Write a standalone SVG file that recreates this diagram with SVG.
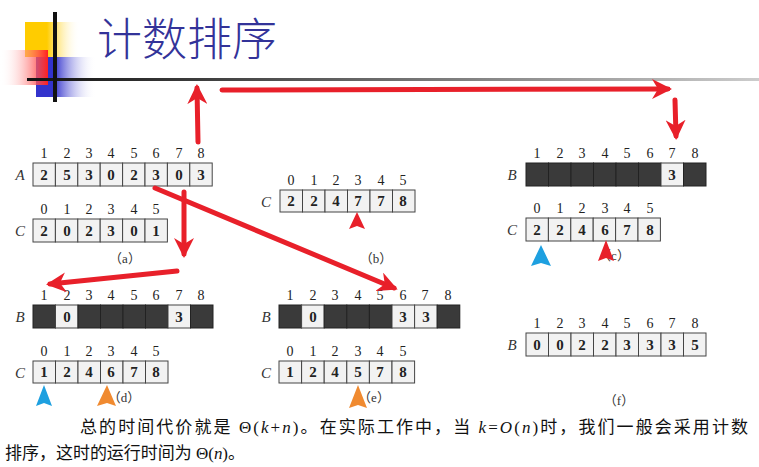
<svg xmlns="http://www.w3.org/2000/svg" width="759" height="467" viewBox="0 0 759 467">
<defs>
<linearGradient id="gy" x1="0" x2="1"><stop offset="0.4" stop-color="#ffcc00"/><stop offset="1" stop-color="#fff" stop-opacity="0"/></linearGradient>
<linearGradient id="gb" x1="0" x2="1"><stop offset="0.3" stop-color="#3333cc"/><stop offset="1" stop-color="#fff" stop-opacity="0"/></linearGradient>
<linearGradient id="gr" x1="1" x2="0"><stop offset="0" stop-color="#ff2020"/><stop offset="1" stop-color="#fff" stop-opacity="0"/></linearGradient>
<linearGradient id="gl" x1="0" x2="1"><stop offset="0" stop-color="#111"/><stop offset="1" stop-color="#ccc"/></linearGradient>
<marker id="ah" viewBox="0 0 10 10" refX="8" refY="5" markerWidth="4" markerHeight="4" orient="auto"><path d="M0,0L10,5L0,10L3,5z" fill="#e8202a"/></marker>
</defs>
<style>
.c{fill:#f2f2f2;stroke:#444;stroke-width:1}
.d{fill:#3a3a3a;stroke:#222;stroke-width:1}
.t{font-family:"Liberation Serif","DejaVu Serif",serif;font-size:15px;font-weight:bold;fill:#222;text-anchor:middle}
.i{font-family:"Liberation Serif","DejaVu Serif",serif;font-size:14px;fill:#222;text-anchor:middle}
.l{font-family:"Liberation Serif","DejaVu Serif",serif;font-size:15px;font-style:italic;fill:#333;text-anchor:middle}
.cap{font-family:"Liberation Serif","Noto Sans CJK SC",serif;font-size:13px;fill:#333;text-anchor:middle}
.ar{stroke:#e8202a;stroke-width:5;fill:none;stroke-linecap:round;marker-end:url(#ah)}
.body{font-family:"Liberation Serif","Noto Sans CJK SC",serif;font-size:17px;fill:#111}
</style>
<rect width="759" height="467" fill="#fff"/>
<g id="deco">
<rect x="25" y="22" width="55" height="35" fill="url(#gy)"/>
<rect x="36" y="57" width="60" height="40" fill="url(#gb)"/>
<rect x="0" y="50" width="48" height="35" fill="url(#gr)"/>
<rect x="27" y="78" width="732" height="3" fill="url(#gl)"/>
<rect x="53" y="12" width="4" height="90" fill="#111"/>
</g>
<text x="97" y="56" font-family="'Noto Sans CJK SC',sans-serif" font-weight="300" font-size="45" fill="#333399">计数排序</text>

<g id="a">
<text class="l" x="20" y="180">A</text>
<g class="i"><text x="44" y="158">1</text><text x="67" y="158">2</text><text x="89" y="158">3</text><text x="111" y="158">4</text><text x="134" y="158">5</text><text x="156" y="158">6</text><text x="179" y="158">7</text><text x="201" y="158">8</text></g>
<g><rect class="c" x="33" y="163" width="22.4" height="23"/><rect class="c" x="55.4" y="163" width="22.4" height="23"/><rect class="c" x="77.8" y="163" width="22.4" height="23"/><rect class="c" x="100.2" y="163" width="22.4" height="23"/><rect class="c" x="122.6" y="163" width="22.4" height="23"/><rect class="c" x="145" y="163" width="22.4" height="23"/><rect class="c" x="167.4" y="163" width="22.4" height="23"/><rect class="c" x="189.8" y="163" width="22.4" height="23"/></g>
<g class="t"><text x="44" y="180">2</text><text x="67" y="180">5</text><text x="89" y="180">3</text><text x="111" y="180">0</text><text x="134" y="180">2</text><text x="156" y="180">3</text><text x="179" y="180">0</text><text x="201" y="180">3</text></g>
<text class="l" x="20" y="236">C</text>
<g class="i"><text x="44" y="214">0</text><text x="67" y="214">1</text><text x="89" y="214">2</text><text x="111" y="214">3</text><text x="134" y="214">4</text><text x="156" y="214">5</text></g>
<g><rect class="c" x="33" y="219" width="22.4" height="23"/><rect class="c" x="55.4" y="219" width="22.4" height="23"/><rect class="c" x="77.8" y="219" width="22.4" height="23"/><rect class="c" x="100.2" y="219" width="22.4" height="23"/><rect class="c" x="122.6" y="219" width="22.4" height="23"/><rect class="c" x="145" y="219" width="22.4" height="23"/></g>
<g class="t"><text x="44" y="236">2</text><text x="67" y="236">0</text><text x="89" y="236">2</text><text x="111" y="236">3</text><text x="134" y="236">0</text><text x="156" y="236">1</text></g>
<text class="cap" x="125" y="263">（a）</text>
</g>

<g id="b">
<text class="l" x="266" y="207">C</text>
<g class="i"><text x="291" y="185">0</text><text x="314" y="185">1</text><text x="336" y="185">2</text><text x="358" y="185">3</text><text x="381" y="185">4</text><text x="403" y="185">5</text></g>
<g><rect class="c" x="280" y="190" width="22.5" height="22"/><rect class="c" x="302.5" y="190" width="22.5" height="22"/><rect class="c" x="325" y="190" width="22.5" height="22"/><rect class="c" x="347.5" y="190" width="22.5" height="22"/><rect class="c" x="370" y="190" width="22.5" height="22"/><rect class="c" x="392.5" y="190" width="22.5" height="22"/></g>
<g class="t"><text x="291" y="206">2</text><text x="314" y="206">2</text><text x="336" y="206">4</text><text x="358" y="206">7</text><text x="381" y="206">7</text><text x="403" y="206">8</text></g>
<text class="cap" x="376" y="263">（b）</text>
</g>

<g id="c">
<text class="l" x="512" y="180">B</text>
<g class="i"><text x="537" y="158">1</text><text x="560" y="158">2</text><text x="582" y="158">3</text><text x="605" y="158">4</text><text x="627" y="158">5</text><text x="650" y="158">6</text><text x="672" y="158">7</text><text x="695" y="158">8</text></g>
<g><rect class="d" x="526" y="163" width="22.5" height="23"/><rect class="d" x="548.5" y="163" width="22.5" height="23"/><rect class="d" x="571" y="163" width="22.5" height="23"/><rect class="d" x="593.5" y="163" width="22.5" height="23"/><rect class="d" x="616" y="163" width="22.5" height="23"/><rect class="d" x="638.5" y="163" width="22.5" height="23"/><rect class="c" x="661" y="163" width="22.5" height="23"/><rect class="d" x="683.5" y="163" width="22.5" height="23"/></g>
<text class="t" x="672" y="180">3</text>
<text class="l" x="512" y="235">C</text>
<g class="i"><text x="537" y="213">0</text><text x="560" y="213">1</text><text x="582" y="213">2</text><text x="605" y="213">3</text><text x="627" y="213">4</text><text x="650" y="213">5</text></g>
<g><rect class="c" x="526" y="218" width="22.4" height="23"/><rect class="c" x="548.4" y="218" width="22.4" height="23"/><rect class="c" x="570.8" y="218" width="22.4" height="23"/><rect class="c" x="593.2" y="218" width="22.4" height="23"/><rect class="c" x="615.6" y="218" width="22.4" height="23"/><rect class="c" x="638" y="218" width="22.4" height="23"/></g>
<g class="t"><text x="537" y="235">2</text><text x="560" y="235">2</text><text x="582" y="235">4</text><text x="605" y="235">6</text><text x="627" y="235">7</text><text x="650" y="235">8</text></g>
<text class="cap" x="614" y="260">（c）</text>
</g>

<g id="d">
<text class="l" x="20" y="322">B</text>
<g class="i"><text x="44" y="300">1</text><text x="67" y="300">2</text><text x="89" y="300">3</text><text x="111" y="300">4</text><text x="134" y="300">5</text><text x="156" y="300">6</text><text x="179" y="300">7</text><text x="201" y="300">8</text></g>
<g><rect class="d" x="33" y="305" width="22.5" height="23"/><rect class="c" x="55.5" y="305" width="22.5" height="23"/><rect class="d" x="78" y="305" width="22.5" height="23"/><rect class="d" x="100.5" y="305" width="22.5" height="23"/><rect class="d" x="123" y="305" width="22.5" height="23"/><rect class="d" x="145.5" y="305" width="22.5" height="23"/><rect class="c" x="168" y="305" width="22.5" height="23"/><rect class="d" x="190.5" y="305" width="22.5" height="23"/></g>
<text class="t" x="67" y="322">0</text><text class="t" x="179" y="322">3</text>
<text class="l" x="20" y="378">C</text>
<g class="i"><text x="44" y="356">0</text><text x="67" y="356">1</text><text x="89" y="356">2</text><text x="111" y="356">3</text><text x="134" y="356">4</text><text x="156" y="356">5</text></g>
<g><rect class="c" x="33" y="361" width="22.5" height="22"/><rect class="c" x="55.5" y="361" width="22.5" height="22"/><rect class="c" x="78" y="361" width="22.5" height="22"/><rect class="c" x="100.5" y="361" width="22.5" height="22"/><rect class="c" x="123" y="361" width="22.5" height="22"/><rect class="c" x="145.5" y="361" width="22.5" height="22"/></g>
<g class="t"><text x="44" y="377">1</text><text x="67" y="377">2</text><text x="89" y="377">4</text><text x="111" y="377">6</text><text x="134" y="377">7</text><text x="156" y="377">8</text></g>
<text class="cap" x="124" y="402">（d）</text>
</g>

<g id="e">
<text class="l" x="266" y="322">B</text>
<g class="i"><text x="290" y="300">1</text><text x="313" y="300">2</text><text x="335" y="300">3</text><text x="358" y="300">4</text><text x="380" y="300">5</text><text x="403" y="300">6</text><text x="425" y="300">7</text><text x="448" y="300">8</text></g>
<g><rect class="d" x="279" y="305" width="22.6" height="23"/><rect class="c" x="301.6" y="305" width="22.6" height="23"/><rect class="d" x="324.2" y="305" width="22.6" height="23"/><rect class="d" x="346.8" y="305" width="22.6" height="23"/><rect class="d" x="369.4" y="305" width="22.6" height="23"/><rect class="c" x="392" y="305" width="22.6" height="23"/><rect class="c" x="414.6" y="305" width="22.6" height="23"/><rect class="d" x="437.2" y="305" width="22.6" height="23"/></g>
<text class="t" x="313" y="322">0</text><text class="t" x="403" y="322">3</text><text class="t" x="426" y="322">3</text>
<text class="l" x="266" y="378">C</text>
<g class="i"><text x="290" y="356">0</text><text x="313" y="356">1</text><text x="335" y="356">2</text><text x="358" y="356">3</text><text x="380" y="356">4</text><text x="403" y="356">5</text></g>
<g><rect class="c" x="279" y="361" width="22.6" height="22"/><rect class="c" x="301.6" y="361" width="22.6" height="22"/><rect class="c" x="324.2" y="361" width="22.6" height="22"/><rect class="c" x="346.8" y="361" width="22.6" height="22"/><rect class="c" x="369.4" y="361" width="22.6" height="22"/><rect class="c" x="392" y="361" width="22.6" height="22"/></g>
<g class="t"><text x="290" y="377">1</text><text x="313" y="377">2</text><text x="335" y="377">4</text><text x="358" y="377">5</text><text x="380" y="377">7</text><text x="403" y="377">8</text></g>
<text class="cap" x="374" y="402">（e）</text>
</g>

<g id="f">
<text class="l" x="512" y="350">B</text>
<g class="i"><text x="537" y="328">1</text><text x="560" y="328">2</text><text x="582" y="328">3</text><text x="605" y="328">4</text><text x="627" y="328">5</text><text x="650" y="328">6</text><text x="672" y="328">7</text><text x="695" y="328">8</text></g>
<g><rect class="c" x="526" y="333" width="22.5" height="23"/><rect class="c" x="548.5" y="333" width="22.5" height="23"/><rect class="c" x="571" y="333" width="22.5" height="23"/><rect class="c" x="593.5" y="333" width="22.5" height="23"/><rect class="c" x="616" y="333" width="22.5" height="23"/><rect class="c" x="638.5" y="333" width="22.5" height="23"/><rect class="c" x="661" y="333" width="22.5" height="23"/><rect class="c" x="683.5" y="333" width="22.5" height="23"/></g>
<g class="t"><text x="537" y="350">0</text><text x="560" y="350">0</text><text x="582" y="350">2</text><text x="605" y="350">2</text><text x="627" y="350">3</text><text x="650" y="350">3</text><text x="672" y="350">3</text><text x="695" y="350">5</text></g>
<text class="cap" x="619" y="405">（f）</text>
</g>

<g id="connectors">
<path class="ar" d="M198,142L197,88"/>
<path class="ar" d="M222,90L668,89"/>
<path class="ar" d="M675,100L676,136"/>
<path class="ar" d="M184,192L184,254"/>
<path class="ar" d="M177,271L50,284"/>
<path class="ar" d="M155,188L394,288"/>
</g>
<g id="pointers">
<path d="M357,212L349,229L357,226L365,229z" fill="#e8202a"/>
<path d="M606,240L598,261L606,258L614,261z" fill="#e8202a"/>
<path d="M541,245L531,266L541,263L551,266z" fill="#1ea0e0"/>
<path d="M44,385L36,406L44,403L52,406z" fill="#1ea0e0"/>
<path d="M107,385L97,406L107,403L116,406z" fill="#f08a30"/>
<path d="M358,385L349,408L358,405L367,408z" fill="#f08a30"/>
</g>
<text class="body" x="80" y="433" textLength="668" lengthAdjust="spacing">总的时间代价就是 Θ(<tspan font-style="italic">k</tspan>+<tspan font-style="italic">n</tspan>)。在实际工作中，当 <tspan font-style="italic">k</tspan>=<tspan font-style="italic">O</tspan>(<tspan font-style="italic">n</tspan>)时，我们一般会采用计数</text>
<text class="body" x="5" y="459" textLength="240" lengthAdjust="spacing">排序，这时的运行时间为 Θ(<tspan font-style="italic">n</tspan>)。</text>
</svg>
